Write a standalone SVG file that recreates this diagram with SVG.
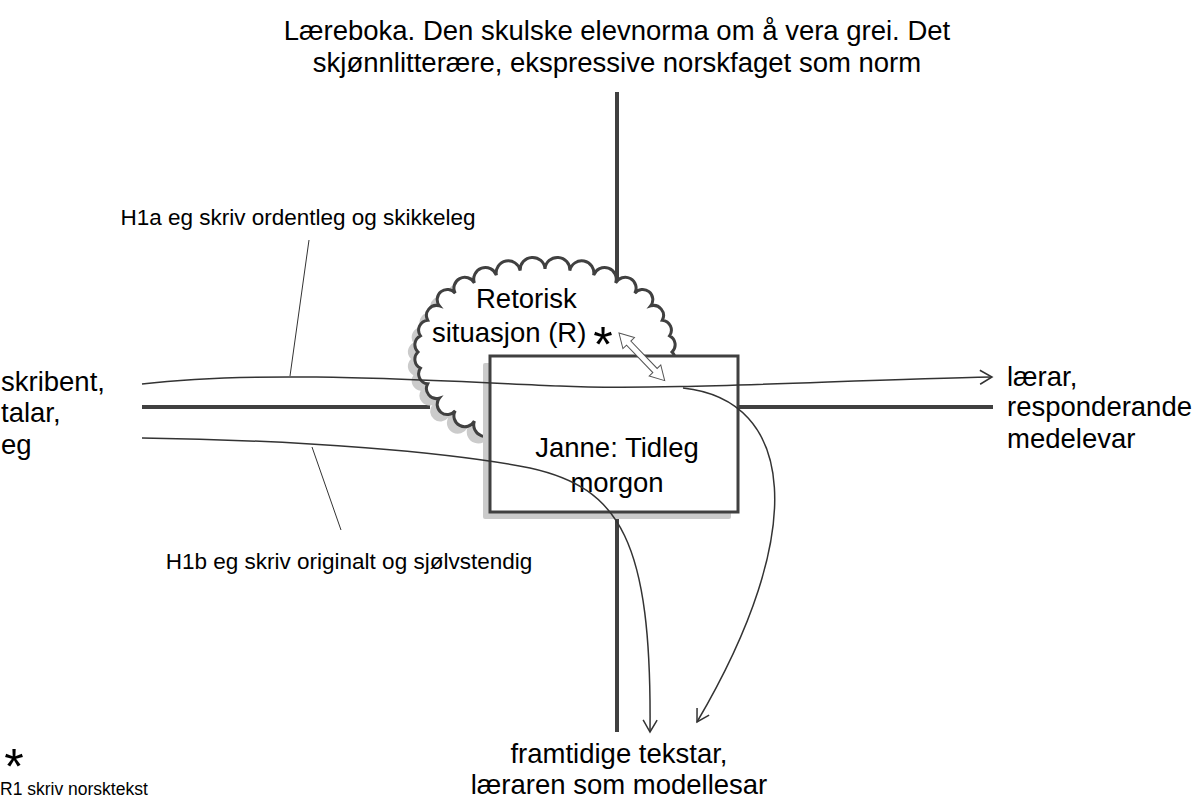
<svg xmlns="http://www.w3.org/2000/svg" width="1201" height="798" viewBox="0 0 1201 798">
  <defs>
    <style>
      .bar { stroke: #404040; stroke-width: 4; fill: none; }
      .outline { stroke: #404040; stroke-width: 3; fill: #ffffff; }
      .shadow { fill: #cbcbcb; stroke: none; }
      .flow { stroke: #333333; stroke-width: 1.5; fill: none; }
      .leader { stroke: #333333; stroke-width: 1; fill: none; }
      .lbl { font-family: "Liberation Sans", Arial, sans-serif; font-size: 27.5px; fill: #000000; }
      .voice { font-family: "Liberation Sans", Arial, sans-serif; font-size: 22.5px; fill: #000000; text-anchor: middle; }
      .note { font-family: "Liberation Sans", Arial, sans-serif; font-size: 17.5px; fill: #000000; }
      .star { font-family: "Liberation Sans", Arial, sans-serif; font-size: 50px; fill: #000000; text-anchor: middle; }
    </style>
    <marker id="open-arrow" markerUnits="userSpaceOnUse" markerWidth="30" markerHeight="30" refX="0" refY="0" viewBox="-15 -15 30 30" orient="auto">
      <path d="M-12,-7 L0,0 L-12,7" fill="none" stroke="#333333" stroke-width="1.5"/>
    </marker>
    <path id="cloud-shape" d="M672,352 A10,10 0 0 1 669.6,368.2 A10,10 0 0 1 662.3,383.8 A10,10 0 0 1 650.6,398.1 A10,10 0 0 1 634.8,410.7 A10,10 0 0 1 615.6,421 A10,10 0 0 1 593.6,428.7 A10,10 0 0 1 569.8,433.4 A10,10 0 0 1 545,435 A10,10 0 0 1 520.2,433.4 A10,10 0 0 1 496.4,428.7 A10,10 0 0 1 474.4,421 A10,10 0 0 1 455.2,410.7 A10,10 0 0 1 439.4,398.1 A10,10 0 0 1 427.7,383.8 A10,10 0 0 1 420.4,368.2 A10,10 0 0 1 418,352 A10,10 0 0 1 420.4,335.8 A10,10 0 0 1 427.7,320.2 A10,10 0 0 1 439.4,305.9 A10,10 0 0 1 455.2,293.3 A10,10 0 0 1 474.4,283 A10,10 0 0 1 496.4,275.3 A10,10 0 0 1 520.2,270.6 A10,10 0 0 1 545,269 A10,10 0 0 1 569.8,270.6 A10,10 0 0 1 593.6,275.3 A10,10 0 0 1 615.6,283 A10,10 0 0 1 634.8,293.3 A10,10 0 0 1 650.6,305.9 A10,10 0 0 1 662.3,320.2 A10,10 0 0 1 669.6,335.8 A10,10 0 0 1 672,352 Z"/>
  </defs>

  <rect width="1201" height="798" fill="#ffffff"/>

  <!-- axes of the cross -->
  <g id="axes">
    <line class="bar" x1="617" y1="92" x2="617" y2="290"/>
    <line class="bar" x1="617" y1="505" x2="617" y2="732"/>
    <line class="bar" x1="142" y1="407" x2="430" y2="407"/>
    <line class="bar" x1="735" y1="407" x2="993" y2="407"/>
  </g>

  <!-- rhetorical situation cloud -->
  <g id="cloud">
    <use href="#cloud-shape" class="shadow" transform="translate(-7,7)"/>
    <use href="#cloud-shape" class="outline"/>
    <text class="lbl" x="476" y="308">Retorisk</text>
    <text class="lbl" x="432" y="342">situasjon (R)</text>
    <text class="star" x="603" y="362">*</text>
  </g>

  <!-- writing task box -->
  <g id="task">
    <rect class="shadow" x="483" y="363" width="248" height="156" rx="2"/>
    <rect class="outline" x="490" y="356" width="248" height="156"/>
    <text class="lbl" x="617" y="457" text-anchor="middle">Janne: Tidleg</text>
    <text class="lbl" x="617" y="492" text-anchor="middle">morgon</text>
  </g>

  <!-- flows from writer -->
  <g id="connectors">
    <path class="flow" d="M142,384 C260,370 420,380 560,386 C660,391 840,380 992,377" marker-end="url(#open-arrow)"/>
    <path class="flow" d="M683,388 C795,400 810,530 697,722" marker-end="url(#open-arrow)"/>
    <path class="flow" d="M142,438 C300,440 450,452 530,468 C620,488 652,540 650,732" marker-end="url(#open-arrow)"/>
    <line class="leader" x1="309" y1="240" x2="290" y2="376"/>
    <line class="leader" x1="312" y1="447" x2="341" y2="530"/>
    <polygon points="0,0 14,-8 14,-3 52,-3 52,-8 66,0 52,8 52,3 14,3 14,8" fill="#ffffff" stroke="#555555" stroke-width="1" transform="translate(619,333) rotate(46.2)"/>
  </g>

  <!-- norm (top) -->
  <g id="norm">
    <text class="lbl" x="617" y="40" text-anchor="middle">Læreboka. Den skulske elevnorma om å vera grei. Det</text>
    <text class="lbl" x="617" y="72" text-anchor="middle">skjønnlitterære, ekspressive norskfaget som norm</text>
  </g>

  <!-- writer (left) -->
  <g id="writer">
    <text class="lbl" x="1" y="391">skribent,</text>
    <text class="lbl" x="1" y="422">talar,</text>
    <text class="lbl" x="1" y="454">eg</text>
  </g>

  <!-- readers (right) -->
  <g id="readers">
    <text class="lbl" x="1007" y="386">lærar,</text>
    <text class="lbl" x="1007" y="416">responderande</text>
    <text class="lbl" x="1007" y="448">medelevar</text>
  </g>

  <!-- future texts (bottom) -->
  <g id="future">
    <text class="lbl" x="619" y="763" text-anchor="middle">framtidige tekstar,</text>
    <text class="lbl" x="619" y="794" text-anchor="middle">læraren som modellesar</text>
  </g>

  <!-- voices -->
  <g id="voices">
    <text class="voice" x="298" y="225">H1a eg skriv ordentleg og skikkeleg</text>
    <text class="voice" x="349" y="569">H1b eg skriv originalt og sjølvstendig</text>
  </g>

  <!-- legend -->
  <g id="legend">
    <text class="star" x="14" y="784">*</text>
    <text class="note" x="0" y="795">R1 skriv norsktekst</text>
  </g>
</svg>
